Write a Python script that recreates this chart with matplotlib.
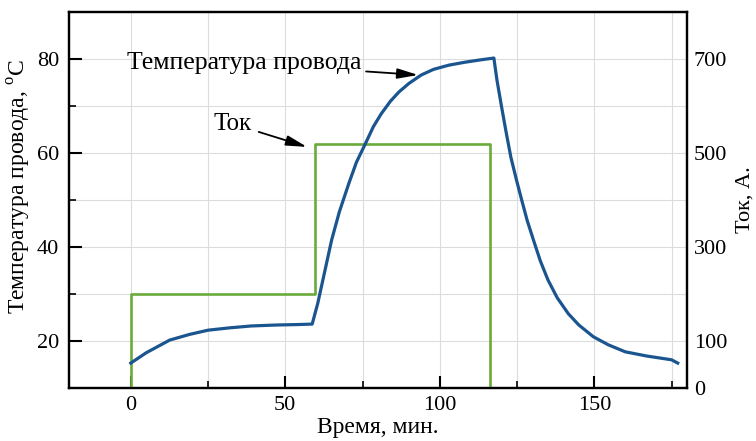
import matplotlib
matplotlib.use("Agg")
import matplotlib.pyplot as plt
from matplotlib.ticker import MultipleLocator, FixedLocator

plt.rcParams['font.family'] = ['Liberation Serif', 'DejaVu Serif']
plt.rcParams['mathtext.fontset'] = 'custom'
plt.rcParams['mathtext.rm'] = 'Liberation Serif'

# Температура провода, °C
t_temp = [0, 5, 12.6, 19, 25, 32, 39, 47, 54, 58.7,
          60.5, 62, 63.5, 65, 67.5, 70.6, 73, 76, 78.5, 81, 84, 86.8, 90, 94,
          98, 103, 108, 113, 117.5,
          118.5, 120, 121.5, 123, 124.8, 126.5, 128.3, 130.3, 132.5, 135, 138, 141.6,
          145, 149.7, 154.5, 160, 167, 172, 175, 177]
temp = [15.3, 17.5, 20.2, 21.4, 22.3, 22.8, 23.2, 23.4, 23.5, 23.6,
        28, 32.5, 37, 41.5, 47.5, 53.6, 58, 62.1, 65.6, 68.3, 71.0, 73, 74.8, 76.6,
        77.8, 78.7, 79.3, 79.8, 80.2,
        75.5, 69.8, 64.3, 59.1, 54.3, 50, 45.6, 41.5, 37.1, 33, 29.2, 25.8,
        23.4, 20.9, 19.2, 17.7, 16.8, 16.3, 16.0, 15.3]

# Ток, А
t_cur = [0, 0, 59.5, 59.5, 116.3, 116.3]
cur = [0, 200, 200, 520, 520, 0]

right_ticks = [0, 100, 300, 500, 700]

fig = plt.figure(figsize=(7.56, 4.41), dpi=100)
ax = fig.add_axes([69/756, 1-388/441, 618/756, 376/441])
ax2 = ax.twinx()

ax.set_xlim(-20, 180)
ax.set_ylim(10, 90)
ax2.set_ylim(0, 800)

# ток на правой оси, температура поверх него (в координатах левой оси)
ax2.plot(t_cur, cur, color='#6aab3c', lw=1.9)
ax2.plot(t_temp, temp, color='#1b5590', lw=2.3, transform=ax.transData)
ax2.set_ylim(0, 800)

ax.xaxis.set_major_locator(MultipleLocator(50))
ax.xaxis.set_minor_locator(MultipleLocator(25))
ax.yaxis.set_major_locator(FixedLocator([20, 40, 60, 80]))
ax.yaxis.set_minor_locator(FixedLocator([30, 50, 70]))
ax2.set_yticks(right_ticks)

ax.grid(which='both', color='#dcdcdc', lw=0.8)
ax.tick_params(which='major', direction='in', length=9, width=1.5, labelsize=16, pad=7)
ax.tick_params(which='minor', direction='in', length=5, width=1.2)
ax.tick_params(axis='x', pad=6)
ax2.tick_params(length=0, labelsize=16, pad=5)

for a in (ax, ax2):
    for s in a.spines.values():
        s.set_linewidth(1.6)

ax.set_xlabel('Время, мин.', fontsize=17, labelpad=1)
ax.set_ylabel('Температура провода, $^{\\mathrm{o}}$C', fontsize=17)
ax.yaxis.set_label_coords(-0.058, 0.535)
ax2.set_ylabel('Ток, А.', fontsize=16, labelpad=6)

arrow = dict(arrowstyle='-|>,head_length=0.9,head_width=0.22', color='black',
             lw=1.3, mutation_scale=14, shrinkB=0)
ax.annotate('Температура провода', xy=(93, 76.6), xytext=(74.8, 79.1),
            ha='right', va='center', fontsize=18.5,
            arrowprops=dict(arrow, shrinkA=1))
ax.annotate('Ток', xy=(57, 61.3), xytext=(39.2, 66.2),
            ha='right', va='center', fontsize=18,
            arrowprops=dict(arrow, shrinkA=3))

fig.savefig('out.png', dpi=100)
